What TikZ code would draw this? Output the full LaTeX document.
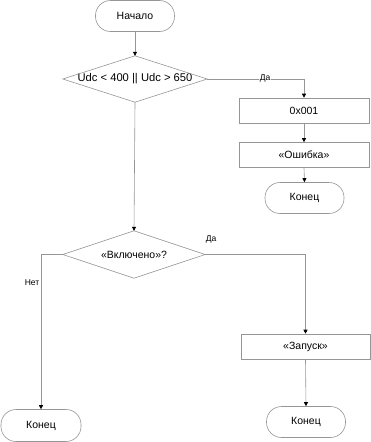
\documentclass[tikz,border=0pt]{standalone}
\usepackage{fontspec}
\setmainfont{Liberation Sans}
\usetikzlibrary{arrows.meta}
\definecolor{lc}{RGB}{150,150,150}
\begin{document}
\begin{tikzpicture}[x=1pt,y=-1pt,
  font=\fontsize{10.5}{12}\selectfont,
  term/.style={draw=lc,line width=0.6pt,rectangle,rounded corners=15pt,minimum width=79pt,minimum height=31pt,inner sep=0pt},
  proc/.style={draw=lc,line width=0.6pt,rectangle,minimum width=130pt,minimum height=25pt,inner sep=0pt},
  dia/.style={rectangle,inner sep=0pt},
  conn/.style={draw=lc,line width=0.6pt,-{Triangle[length=4pt,width=4pt,color=black,fill=black]}},
  lbl/.style={font=\fontsize{8.5}{10}\selectfont,inner sep=0.5pt}
]
\useasboundingbox (0,0) rectangle (370,442);

\node[term] (start) at (135,16) {Начало};
\node[dia,minimum width=144pt,minimum height=46pt,font=\fontsize{11.2}{13}\selectfont] (d1) at (135,79) {Udc < 400 || Udc > 650};
\draw[lc,line width=0.6pt] (d1.north) -- (d1.east) -- (d1.south) -- (d1.west) -- cycle;

\node[proc] (b1) at (304,110.5) {0x001};
\node[proc] (b2) at (304,155) {«Ошибка»};
\node[term] (e1) at (304.5,198) {Конец};

\node[dia,minimum width=142pt,minimum height=47pt] (d2) at (134,254.5) {«Включено»?};
\draw[lc,line width=0.6pt] (d2.north) -- (d2.east) -- (d2.south) -- (d2.west) -- cycle;

\node[proc,minimum width=129pt] (b3) at (305.5,346.5) {«Запуск»};
\node[term,minimum width=80pt,minimum height=32pt] (e2) at (41,425.5) {Конец};
\node[term] (e3) at (306,422) {Конец};

\draw[conn] (start.south) -- (d1.north);
\draw[conn] (d1.east) -| (b1.north);
\node[lbl,fill=white] (l1) at (265,78) {Да};
\draw[conn] (b1.south) -- (b2.north);
\draw[conn] (b2.south) -- (e1.north);
\draw[conn] (d1.south) -- (d2.north);
\draw[conn] (d2.east) -| (b3.north);
\node[lbl] (l2) at (211,239) {Да};
\draw[conn] (d2.west) -| (e2.north);
\node[lbl] (l3) at (32,283) {Нет};
\draw[conn] (b3.south) -- (e3.north);
\end{tikzpicture}
\end{document}
